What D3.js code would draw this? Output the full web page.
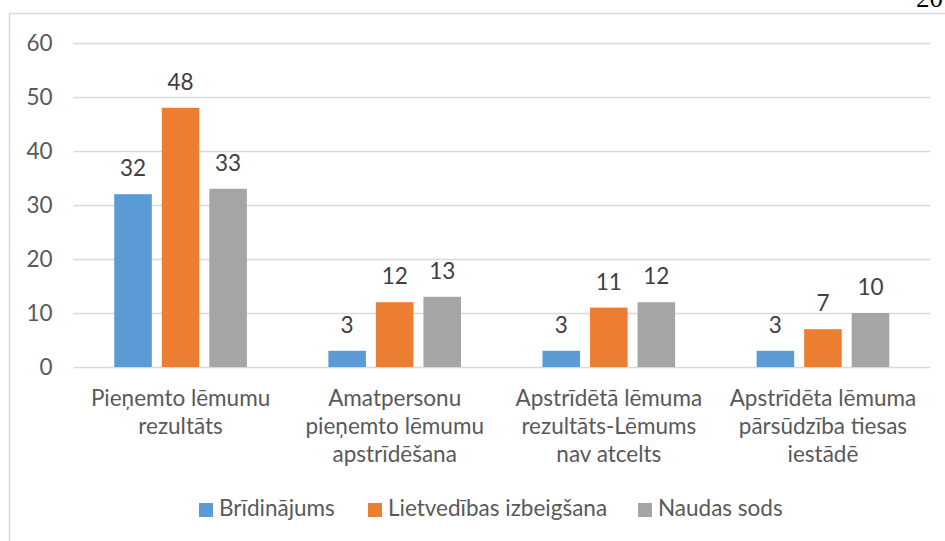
<!DOCTYPE html>
<html>
<head>
    <meta charset="utf-8">
    <title>Lēmumi</title>
    <script src="https://d3js.org/d3.v7.min.js"></script>
    <style>
        body { margin: 0; background: #fff; }
        svg { display: block; font-family: Lato, 'Open Sans', sans-serif; }
    </style>
</head>
<body>
    <div id="chart"></div>
    <script>
        // data
        const categories = [
            ["Pieņemto lēmumu", "rezultāts"],
            ["Amatpersonu", "pieņemto lēmumu", "apstrīdēšana"],
            ["Apstrīdētā lēmuma", "rezultāts-Lēmums", "nav atcelts"],
            ["Apstrīdēta lēmuma", "pārsūdzība tiesas", "iestādē"]
        ]
        const seriesNames = ["Brīdinājums", "Lietvedības izbeigšana", "Naudas sods"]
        const bridinajums = [32, 3, 3, 3]
        const lietvedibas = [48, 12, 11, 7]
        const naudasSods = [33, 13, 12, 10]
        const yTicks = [0, 10, 20, 30, 40, 50, 60]

        const colors = ["#5b9bd5", "#ed7d31", "#a5a5a5"]
        const seriesValues = [bridinajums, lietvedibas, naudasSods]

        const w = 945, h = 541
        const plot = { left: 73.5, right: 930, top: 43, bottom: 367 }
        const fontSize = 22.5

        const svg = d3.select("#chart").append("svg").attr("width", w).attr("height", h)

        // chart frame (runs off the page on the right and bottom)
        svg.append("rect")
            .attr("x", 9.5).attr("y", 13.5)
            .attr("width", 960).attr("height", 560)
            .style("fill", "none").style("stroke", "#d9d9d9").style("stroke-width", 1.5)

        // page number peeking in at the top
        svg.append("text")
            .attr("x", 916).attr("y", 7)
            .style("font-family", "'Liberation Serif', 'DejaVu Serif', serif")
            .style("font-size", "27px").style("fill", "#000")
            .text("20")

        const keys = categories.map((c, i) => i)
        const x0 = d3.scaleBand().domain(keys).range([plot.left, plot.right]).padding(0)
        const x1 = d3.scaleBand().domain(seriesNames).range([0, x0.bandwidth()])
            .paddingInner(0.21).paddingOuter(0.857)
        const y = d3.scaleLinear().domain([0, 60]).range([plot.bottom, plot.top])

        const yAxis = d3.axisLeft(y).tickValues(yTicks)
            .tickSize(-(plot.right - plot.left)).tickPadding(21)

        const gy = svg.append("g")
            .attr("transform", "translate(" + plot.left + ",0)")
            .call(yAxis)
        gy.select(".domain").remove()
        gy.selectAll(".tick line").style("stroke", "#d9d9d9").style("stroke-width", 1.5)
        gy.selectAll(".tick text")
            .style("font-family", "Lato, sans-serif")
            .style("font-size", fontSize + "px").style("fill", "#595959")

        const rows = []
        keys.forEach(i => {
            seriesNames.forEach((s, j) => {
                rows.push({ cat: i, series: s, idx: j, value: seriesValues[j][i] })
            })
        })

        svg.append("g").selectAll("rect")
            .data(rows)
            .enter()
            .append("rect")
            .attr("x", d => x0(d.cat) + x1(d.series))
            .attr("y", d => y(d.value))
            .attr("width", x1.bandwidth())
            .attr("height", d => y(0) - y(d.value))
            .style("fill", d => colors[d.idx])

        svg.append("g").selectAll("text")
            .data(rows)
            .enter()
            .append("text")
            .attr("x", d => x0(d.cat) + x1(d.series) + x1.bandwidth() / 2)
            .attr("y", d => y(d.value) - 18)
            .attr("text-anchor", "middle")
            .style("font-size", fontSize + "px")
            .style("fill", "#404040")
            .text(d => d.value)

        // category labels, wrapped like the original
        const catG = svg.append("g").selectAll("text")
            .data(categories)
            .enter()
            .append("text")
            .attr("text-anchor", "middle")
            .attr("x", (d, i) => x0(i) + x0.bandwidth() / 2)
            .attr("y", 406)
            .style("font-size", fontSize + "px")
            .style("fill", "#595959")

        catG.selectAll("tspan")
            .data(d => d)
            .enter()
            .append("tspan")
            .attr("x", function () { return d3.select(this.parentNode).attr("x") })
            .attr("dy", (d, i) => i === 0 ? 0 : 28)
            .text(d => d)

        // legend
        const legendX = [199, 368, 638]
        const legend = svg.append("g").selectAll("g")
            .data(seriesNames)
            .enter()
            .append("g")
            .attr("transform", (d, i) => "translate(" + legendX[i] + ",503)")

        legend.append("rect")
            .attr("width", 14).attr("height", 14)
            .style("fill", (d, i) => colors[i])

        legend.append("text")
            .attr("x", 20).attr("y", 13)
            .style("font-size", fontSize + "px")
            .style("fill", "#595959")
            .text(d => d)
    </script>
</body>
</html>
